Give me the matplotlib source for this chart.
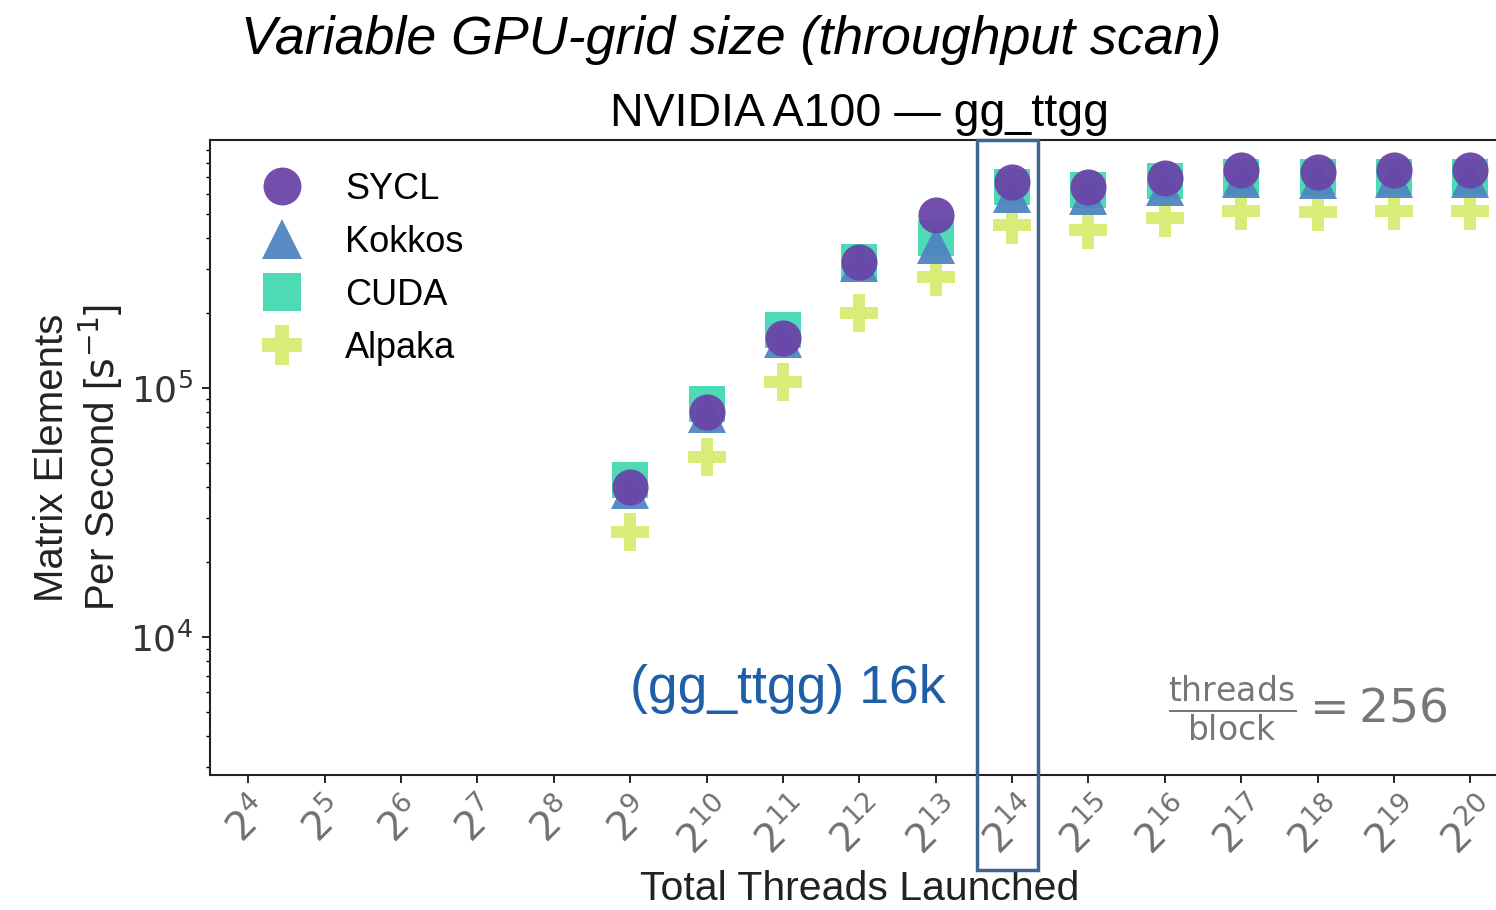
import matplotlib
matplotlib.use("Agg")
import matplotlib.pyplot as plt
import matplotlib.transforms as mtransforms
from matplotlib.patches import Rectangle

# throughput scan, gg_ttgg on A100 (threads/block = 256)
exponents = list(range(4, 21))
data_exponents = list(range(9, 21))

sycl = [40e3, 80e3, 159e3, 321e3, 495e3, 672e3, 641e3, 697e3, 751e3, 736e3, 751e3, 751e3]
kokkos = [39e3, 79e3, 157e3, 318e3, 375e3, 600e3, 590e3, 640e3, 690e3, 685e3, 690e3, 690e3]
cuda = [42.7e3, 86e3, 171e3, 321e3, 400e3, 640e3, 624e3, 680e3, 705e3, 700e3, 705e3, 705e3]
alpaka = [26.4e3, 52.8e3, 106e3, 200e3, 279e3, 452e3, 431e3, 482e3, 513e3, 509e3, 513e3, 513e3]

# name, values, marker, colour, zorder, size
series = [
    ("SYCL", sycl, "o", "#6a45a8", 30, 26),
    ("Kokkos", kokkos, "^", "#4f86bf", 20, 28),
    ("CUDA", cuda, "s", "#45d8b2", 10, 26),
    ("Alpaka", alpaka, "P", "#d6ec70", 15, 28),
]

plt.rcParams["font.family"] = ["Liberation Sans", "DejaVu Sans"]

fig = plt.figure(figsize=(14.96, 9.10), dpi=100)
ax = fig.add_axes([0.1404, 0.1484, 0.868, 0.6978])

pos = {e: i for i, e in enumerate(exponents)}
xs = [pos[e] for e in data_exponents]

handles = []
for name, vals, mk, col, z, ms in series:
    h, = ax.plot(xs, vals, ls="none", marker=mk, ms=ms, color=col,
                 alpha=0.95, zorder=z, label=name, markeredgewidth=0)
    handles.append(h)

ax.set_yscale("log")
ax.set_ylim(2.8e3, 9.9e5)
ax.set_xlim(-0.5, 16.5)
ax.set_xticks(range(len(exponents)))
ax.set_xticklabels([r"$2^{%d}$" % e for e in exponents], rotation=45,
                   fontsize=28, color="#707070", ha="center", va="top",
                   family="DejaVu Sans")
# rotated labels sit a little left of their ticks (last one kept inside the figure)
xlabels = ax.get_xticklabels()
for i, lab in enumerate(xlabels):
    dx = -14 if i == len(xlabels) - 1 else -8
    shift = mtransforms.ScaledTranslation(dx / 100, 0, fig.dpi_scale_trans)
    lab.set_transform(lab.get_transform() + shift)
ax.tick_params(axis="x", pad=6)
ax.tick_params(axis="y", labelsize=26, labelcolor="#333333", pad=6)
ax.tick_params(axis="both", which="major", length=6, width=1.2)
ax.tick_params(axis="y", which="minor", length=3, width=1)
for lab in ax.get_yticklabels():
    lab.set_family("DejaVu Sans")
for sp in ax.spines.values():
    sp.set_linewidth(1.5)
    sp.set_color("#222222")

ax.set_xlabel("Total Threads Launched", fontsize=29.5, color="#222222", labelpad=6)
ax.set_ylabel("Matrix Elements\nPer Second [$\\mathrm{s}^{-1}$]", fontsize=29,
              color="#222222", linespacing=1.15, labelpad=4)

ax.legend(handles=handles, loc="upper left", frameon=False, fontsize=26,
          markerscale=1.05, handletextpad=0.75, labelspacing=0.5,
          borderaxespad=0.3, bbox_to_anchor=(0.008, 0.99))

ax.set_title("NVIDIA A100 — gg_ttgg", fontsize=33.5, pad=10)
fig.text(0.489, 0.956, "Variable GPU-grid size (throughput scan)",
         fontsize=38.7, style="italic", ha="center", va="center")

ax.text(0.445, 0.135, "(gg_ttgg) 16k", transform=ax.transAxes,
        fontsize=38.5, color="#1f5fa8", ha="center", va="center")
ax.text(0.845, 0.105, r"$\frac{\mathrm{threads}}{\mathrm{block}} = 256$",
        transform=ax.transAxes, fontsize=34, color="#777777",
        ha="center", va="center", family="DejaVu Sans")

# highlight box around the 2^14 column, reaching down over its tick label
hi = pos[14]
rect = Rectangle((hi - 0.46, -0.1496), 0.8, 1.1496,
                 transform=ax.get_xaxis_transform(),
                 fill=False, ec="#3d6591", lw=2.5, clip_on=False, zorder=50)
ax.add_patch(rect)

fig.savefig("out.png", dpi=100)
